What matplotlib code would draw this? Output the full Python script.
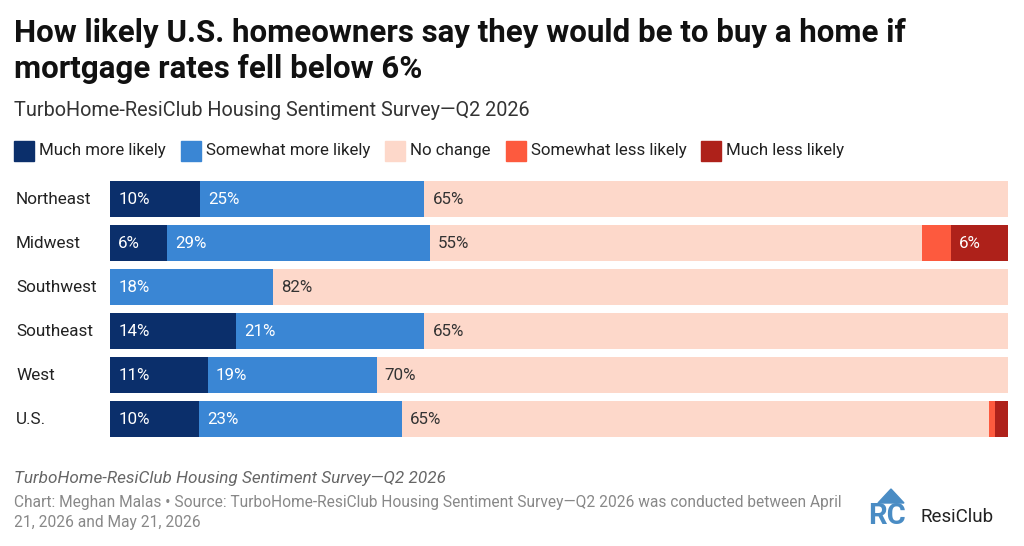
import matplotlib.pyplot as plt
from matplotlib.patches import Rectangle, Polygon

plt.rcParams['font.family'] = ['Roboto', 'DejaVu Sans']

regions = ['Northeast', 'Midwest', 'Southwest', 'Southeast', 'West', 'U.S.']
much_more = [10, 6.4, 0, 14, 10.9, 9.9]
somewhat_more = [25, 29.2, 18.2, 21, 18.8, 22.6]
no_change = [65, 54.8, 81.8, 65, 70.3, 65.4]
somewhat_less = [0, 3.2, 0, 0, 0, 0.6]
much_less = [0, 6.4, 0, 0, 0, 1.5]

series_names = ['Much more likely', 'Somewhat more likely', 'No change',
                'Somewhat less likely', 'Much less likely']
colors = ['#0b2f6b', '#3a86d4', '#fdd8ca', '#fd5a3e', '#ae211a']
label_colors = ['white', 'white', '#333333', 'white', 'white']


def main() -> None:
    W, H = 1024, 546
    fig = plt.figure(figsize=(W / 100, H / 100), dpi=100)

    # bar area in pixel terms
    left, right = 110, 1008
    top, bottom = 177, 441
    ax = fig.add_axes([left / W, 1 - bottom / H, (right - left) / W, (bottom - top) / H])

    data = [much_more, somewhat_more, no_change, somewhat_less, much_less]
    ypos = list(range(len(regions)))
    starts = [0] * len(regions)
    for vals, col, tcol in zip(data, colors, label_colors):
        ax.barh(ypos, vals, left=starts, height=0.84, color=col, linewidth=0)
        for i, v in enumerate(vals):
            if v >= 5:
                ax.text(starts[i] + 0.9, i, f'{round(v)}%', va='center', ha='left',
                        color=tcol, fontsize=12.2)
        starts = [s + v for s, v in zip(starts, vals)]

    ax.set_xlim(0, 100)
    ax.set_ylim(len(regions) - 0.5, -0.5)
    ax.axis('off')

    for i, r in enumerate(regions):
        fig.text(16 / W, 1 - (199 + 44 * i) / H, r, ha='left', va='center',
                 fontsize=12.3, color='#222222')

    # titles
    fig.text(14 / W, 1 - 33 / H, 'How likely U.S. homeowners say they would be to buy a home if',
             fontsize=22.5, fontweight='bold', va='center', ha='left', color='#111111')
    fig.text(14 / W, 1 - 69 / H, 'mortgage rates fell below 6%',
             fontsize=22.5, fontweight='bold', va='center', ha='left', color='#111111')
    fig.text(14 / W, 1 - 110 / H, 'TurboHome-ResiClub Housing Sentiment Survey\u2014Q2 2026',
             fontsize=14.3, va='center', ha='left', color='#333333')

    # legend
    x = 14
    for name, col in zip(series_names, colors):
        fig.patches.append(Rectangle((x / W, 1 - 161 / H), 20 / W, 20 / H,
                                     transform=fig.transFigure, color=col))
        t = fig.text((x + 25) / W, 1 - 151 / H, name, fontsize=12.2, va='center',
                     ha='left', color='#222222')
        fig.canvas.draw()
        bb = t.get_window_extent()
        x = bb.x1 + 15

    # footer
    fig.text(14 / W, 1 - 478 / H, 'TurboHome-ResiClub Housing Sentiment Survey\u2014Q2 2026',
             fontsize=12.3, style='italic', va='center', ha='left', color='#666666')
    fig.text(14 / W, 1 - 503 / H,
             'Chart: Meghan Malas \u2022 Source: TurboHome-ResiClub Housing Sentiment Survey\u2014Q2 2026 was conducted between April',
             fontsize=11.2, va='center', ha='left', color='#888888')
    fig.text(14 / W, 1 - 522 / H, '21, 2026 and May 21, 2026',
             fontsize=11.2, va='center', ha='left', color='#888888')

    # logo
    fig.patches.append(Polygon([(878 / W, 1 - 503 / H), (891 / W, 1 - 489 / H),
                                (904 / W, 1 - 503 / H)], closed=True,
                               transform=fig.transFigure, color='#4a8cc4'))
    fig.text(868 / W, 1 - 516 / H, 'RC', fontsize=21, fontweight='bold', va='center',
             ha='left', color='#4a8cc4')
    fig.text(921 / W, 1 - 517 / H, 'ResiClub', fontsize=13.5, va='center', ha='left',
             color='#222222')

    fig.savefig('out.png', dpi=100)


if __name__ == '__main__':
    main()
